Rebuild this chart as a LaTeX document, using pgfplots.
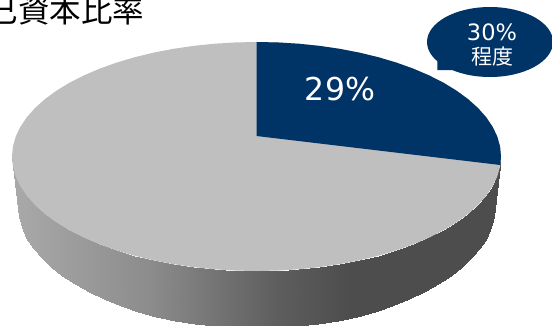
\documentclass[border=0pt]{standalone}
\usepackage{pgfplots}
\pgfplotsset{compat=1.18}
\usepackage{fontspec}
\setmainfont{DejaVu Sans}
\newfontfamily\cjk{Noto Sans CJK JP}
\definecolor{navy}{HTML}{003366}
\definecolor{pietop}{HTML}{BFBFBF}
\begin{document}
\begin{tikzpicture}[x=1pt,y=1pt]
\useasboundingbox (0,0) rectangle (552,325);
\clip (0,0) rectangle (552,325);
\begin{axis}[
  at={(0,0)}, anchor=south west,
  width=552pt, height=325pt, scale only axis,
  xmin=0, xmax=552, ymin=0, ymax=325, y dir=reverse,
  hide axis,
  colormap={sidewall}{rgb255(19cm)=(168,168,168) rgb255(150cm)=(140,140,140) rgb255(276cm)=(94,94,94) rgb255(350cm)=(77,77,77) rgb255(494cm)=(77,77,77)},
  point meta min=19, point meta max=494,
]
% Rim of the disc: upper edge, then lower edge, left to right of the front half
\addplot[surf, shader=interp, mesh/rows=2, point meta=x] table {
x y
501.00 156.50
500.07 166.48
497.29 176.38
492.67 186.14
486.25 195.66
478.09 204.89
468.24 213.75
456.78 222.17
443.80 230.10
429.39 237.46
413.66 244.21
396.74 250.29
378.75 255.66
359.83 260.27
340.12 264.09
319.78 267.10
298.96 269.26
277.81 270.56
256.50 271.00
235.19 270.56
214.04 269.26
193.22 267.10
172.88 264.09
153.17 260.27
134.25 255.66
116.26 250.29
99.34 244.21
83.61 237.46
69.20 230.10
56.22 222.17
44.76 213.75
34.91 204.89
26.75 195.66
20.33 186.14
15.71 176.38
12.93 166.48
12.00 156.50
495.00 206.00
494.10 216.63
491.40 227.19
486.93 237.58
480.21 247.73
471.30 257.56
461.75 267.00
450.64 275.98
438.05 284.42
424.08 292.27
408.84 299.46
392.44 305.94
375.00 311.66
356.66 316.57
337.56 320.64
317.84 323.84
297.66 326.15
277.16 327.54
256.50 328.00
235.84 327.54
215.34 326.15
195.16 323.84
175.44 320.64
156.34 316.57
138.00 311.66
120.56 305.94
104.16 299.46
88.92 292.27
74.95 284.42
62.36 275.98
51.25 267.00
41.70 257.56
32.79 247.73
26.07 237.58
21.60 227.19
18.90 216.63
18.00 206.00
};
% Top face
\addplot[fill=pietop, draw=none] coordinates {
(256.5,42) (277.81,42.44) (298.96,43.74) (319.78,45.90) (340.12,48.91) (359.83,52.73)
(378.75,57.34) (396.74,62.71) (413.66,68.79) (429.39,75.54) (443.80,82.90) (456.78,90.83)
(468.24,99.25) (478.09,108.11) (486.25,117.34) (492.67,126.86) (497.29,136.62) (500.07,146.52)
(501,156.5) (500.07,166.48) (497.29,176.38) (492.67,186.14) (486.25,195.66) (478.09,204.89)
(468.24,213.75) (456.78,222.17) (443.80,230.10) (429.39,237.46) (413.66,244.21) (396.74,250.29)
(378.75,255.66) (359.83,260.27) (340.12,264.09) (319.78,267.10) (298.96,269.26) (277.81,270.56)
(256.5,271) (235.19,270.56) (214.04,269.26) (193.22,267.10) (172.88,264.09) (153.17,260.27)
(134.25,255.66) (116.26,250.29) (99.34,244.21) (83.61,237.46) (69.20,230.10) (56.22,222.17)
(44.76,213.75) (34.91,204.89) (26.75,195.66) (20.33,186.14) (15.71,176.38) (12.93,166.48)
(12,156.5) (12.93,146.52) (15.71,136.62) (20.33,126.86) (26.75,117.34) (34.91,108.11)
(44.76,99.25) (56.22,90.83) (69.20,82.90) (83.61,75.54) (99.34,68.79) (116.26,62.71)
(134.25,57.34) (153.17,52.73) (172.88,48.91) (193.22,45.90) (214.04,43.74) (235.19,42.44)
} -- cycle;
% The 29% slice
\addplot[fill=navy, draw=none] coordinates {
(256.5,136) (256.5,42) (277.81,42.44) (298.96,43.74) (319.78,45.90) (340.12,48.91) (359.83,52.73)
(378.75,57.34) (396.74,62.71) (413.66,68.79) (429.39,75.54) (443.80,82.90) (456.78,90.83)
(468.24,99.25) (478.09,108.11) (486.25,117.34) (492.67,126.86) (497.29,136.62) (500.07,146.52)
(501,156.5) (500.3,165)
} -- cycle;
% Callout
\fill[navy] (axis cs:490,42) ellipse [x radius=63, y radius=35];
\addplot[fill=navy, draw=none] coordinates {(437.3,58) (437.3,70) (456,70) (470,60)} -- cycle;
\node[text=white, font=\fontsize{31.5}{32}\selectfont, anchor=center] at (axis cs:340,89) {29\%};
\node[text=white, font=\fontsize{22.5}{23}\selectfont, anchor=center] at (axis cs:492,32) {30\%};
\node[text=white, font=\cjk\fontsize{21}{22}\selectfont, anchor=center] at (axis cs:492,57) {程度};
\node[text=black, font=\cjk\fontsize{31.5}{32}\selectfont, anchor=base west, inner sep=0pt] at (axis cs:-45,22) {自己資本比率};
\end{axis}
\end{tikzpicture}
\end{document}
